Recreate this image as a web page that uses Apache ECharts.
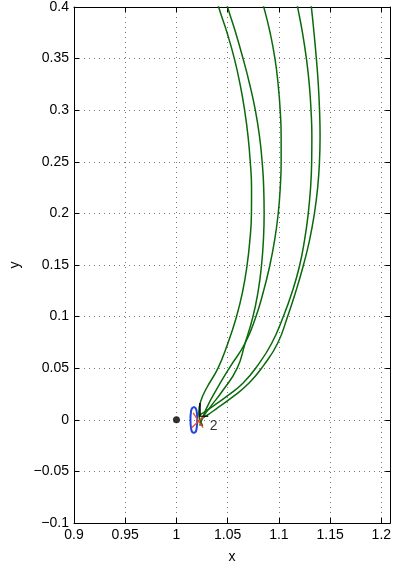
<!DOCTYPE html>
<html>
<head>
<meta charset="utf-8">
<script src="https://cdn.jsdelivr.net/npm/echarts@6/dist/echarts.min.js"></script>
<style>html,body{margin:0;padding:0;background:#fff}#c{width:394px;height:569px}</style>
</head>
<body>
<div id="c"></div>
<script>
// ---- data ----
const xTicks = [0.9, 0.95, 1, 1.05, 1.1, 1.15, 1.2];
const yTicks = [-0.1, -0.05, 0, 0.05, 0.1, 0.15, 0.2, 0.25, 0.3, 0.35, 0.4];
const curveA = [[1.0257,-0.0058],[1.0218,0.0067],[1.0238,0.0183],[1.0295,0.0308],[1.0406,0.0501],[1.0502,0.0742],[1.0584,0.0992],[1.0646,0.1243],[1.0689,0.1493],[1.0717,0.1744],[1.0732,0.1994],[1.0733,0.2245],[1.0721,0.2495],[1.0699,0.2746],[1.0666,0.2996],[1.0622,0.3247],[1.0566,0.3497],[1.0495,0.3748],[1.0413,0.3998],[1.0372,0.4162]];
const curveB = [[1.0228,-0.0058],[1.0257,0.0019],[1.0324,0.0116],[1.0449,0.0279],[1.0593,0.0501],[1.0670,0.0742],[1.0745,0.0992],[1.0797,0.1243],[1.0830,0.1493],[1.0849,0.1744],[1.0856,0.1994],[1.0852,0.2245],[1.0837,0.2495],[1.0811,0.2746],[1.0771,0.2996],[1.0716,0.3247],[1.0651,0.3497],[1.0579,0.3748],[1.0500,0.3998],[1.0459,0.4162]];
const curveC = [[1.0257,0.0019],[1.0295,0.0116],[1.0382,0.0279],[1.0516,0.0501],[1.0670,0.0742],[1.0773,0.0992],[1.0849,0.1243],[1.0911,0.1493],[1.0959,0.1744],[1.0993,0.1994],[1.1013,0.2245],[1.1022,0.2495],[1.1022,0.2746],[1.1013,0.2996],[1.0993,0.3247],[1.0962,0.3497],[1.0915,0.3748],[1.0853,0.3998],[1.0805,0.4162]];
const curveD = [[1.0228,0.0048],[1.0276,0.0077],[1.0362,0.0135],[1.0497,0.0231],[1.0651,0.0356],[1.0795,0.0530],[1.0930,0.0742],[1.1040,0.0992],[1.1131,0.1243],[1.1202,0.1493],[1.1251,0.1744],[1.1286,0.1994],[1.1309,0.2245],[1.1320,0.2495],[1.1322,0.2746],[1.1314,0.2996],[1.1297,0.3247],[1.1269,0.3497],[1.1231,0.3748],[1.1183,0.3998],[1.1151,0.4162]];
const curveE = [[1.0238,0.0010],[1.0305,0.0048],[1.0401,0.0116],[1.0536,0.0212],[1.0709,0.0356],[1.0853,0.0530],[1.0988,0.0742],[1.1082,0.0992],[1.1165,0.1243],[1.1238,0.1493],[1.1300,0.1744],[1.1346,0.1994],[1.1378,0.2245],[1.1396,0.2495],[1.1402,0.2746],[1.1397,0.2996],[1.1385,0.3247],[1.1366,0.3497],[1.1343,0.3748],[1.1317,0.3998],[1.1295,0.4162]];
const orbitBlue = [[1.0170,0.0125],[1.0195,0.0095],[1.0203,0.0],[1.0195,-0.0095],[1.0170,-0.0125],[1.0145,-0.0095],[1.0137,0.0],[1.0145,0.0095],[1.0170,0.0125]];
const redA = [[1.0163,0.0067],[1.0260,-0.0077]];
const redB = [[1.0148,-0.0077],[1.0276,0.0039]];
const earth = [[1.0, 0.0]];
const labelL = [[1.0259, 0.0087]];
const label2 = [[1.0363, -0.0058]];

const xMin = 0.9, xMax = 1.2087, yMin = -0.1, yMax = 0.4, step = 0.05;
const fmt = v => {
  const r = Math.round(v*1000)/1000;
  return String(r).replace('-', '\u2212');
};
const font = 'Liberation Sans, Arial, Helvetica, sans-serif';
const gridLine = {show:true, lineStyle:{color:'#777', type:[1,4], width:1}};
const green = '#0a6a0a';
const lineSeries = (d, color, w) => ({type:'line', data:d, smooth:0.5, showSymbol:false, symbol:'none', lineStyle:{color:color, width:w}, clip:true, z:2, animation:false});
const plain = (d, color, w) => ({type:'line', data:d, smooth:false, showSymbol:false, symbol:'none', lineStyle:{color:color, width:w}, z:3, animation:false});

const chart = echarts.init(document.getElementById('c'), null, {renderer:'canvas'});
chart.setOption({
  animation:false,
  backgroundColor:'#fff',
  grid:{left:72, top:7, width:321, height:519, containLabel:false},
  xAxis:[
    {type:'value', min:xMin, max:xMax, interval:step, position:'bottom',
     axisLine:{show:true, onZero:false, lineStyle:{color:'#000', width:1}},
     axisTick:{show:true, inside:true, length:5, lineStyle:{color:'#000'}},
     axisLabel:{show:true, formatter:fmt, color:'#000', fontSize:14, fontFamily:font, margin:5, showMaxLabel:false},
     splitLine:gridLine,
     name:'x', nameLocation:'middle', nameGap:27, nameTextStyle:{color:'#000', fontSize:14, fontFamily:font}},
    {type:'value', min:xMin, max:xMax, interval:step, position:'top',
     axisLine:{show:true, onZero:false, lineStyle:{color:'#000', width:1}},
     axisTick:{show:true, inside:true, length:5, lineStyle:{color:'#000'}},
     axisLabel:{show:false}, splitLine:{show:false}}
  ],
  yAxis:[
    {type:'value', min:yMin, max:yMax, interval:step, position:'left',
     axisLine:{show:true, onZero:false, lineStyle:{color:'#000', width:1}},
     axisTick:{show:true, inside:true, length:5, lineStyle:{color:'#000'}},
     axisLabel:{show:true, formatter:fmt, color:'#000', fontSize:14, fontFamily:font, margin:5},
     splitLine:gridLine,
     name:'y', nameLocation:'middle', nameGap:52, nameRotate:90, nameTextStyle:{color:'#000', fontSize:14, fontFamily:font}},
    {type:'value', min:yMin, max:yMax, interval:step, position:'right',
     axisLine:{show:true, onZero:false, lineStyle:{color:'#000', width:1}},
     axisTick:{show:true, inside:true, length:5, lineStyle:{color:'#000'}},
     axisLabel:{show:false}, splitLine:{show:false}}
  ],
  series:[
    lineSeries(curveA, green, 1.5),
    lineSeries(curveB, green, 1.5),
    lineSeries(curveC, green, 1.5),
    lineSeries(curveD, green, 1.5),
    lineSeries(curveE, green, 1.5),
    Object.assign(lineSeries(orbitBlue, '#2244dd', 2), {smooth:0.6}),
    plain(redA, '#ee4422', 1.2),
    plain(redB, '#ee4422', 1.2),
    {type:'scatter', data:earth, symbol:'circle', symbolSize:7, itemStyle:{color:'#000'}, z:5, animation:false},
    {type:'scatter', data:labelL, symbol:'circle', symbolSize:1, itemStyle:{color:'rgba(0,0,0,0)'}, z:10, zlevel:1, animation:false,
     label:{show:true, position:'inside', formatter:'L', color:'#000', fontSize:21, fontFamily:font}},
    {type:'scatter', data:label2, symbol:'circle', symbolSize:1, itemStyle:{color:'rgba(0,0,0,0)'}, z:10, zlevel:1, animation:false,
     label:{show:true, position:'inside', formatter:'2', color:'#000', fontSize:14, fontFamily:font}}
  ]
});
</script>
</body>
</html>
